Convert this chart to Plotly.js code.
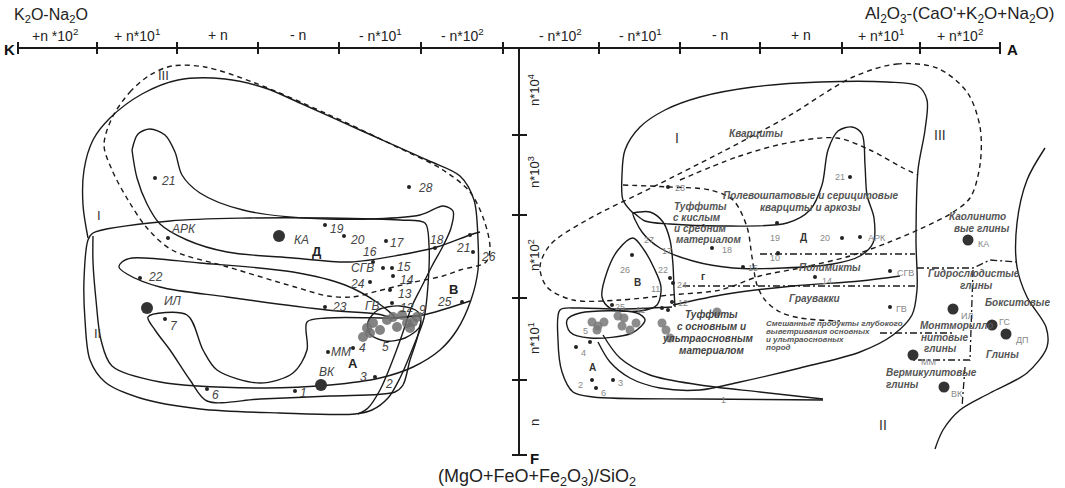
<!DOCTYPE html>
<html><head><meta charset="utf-8">
<script src="https://cdn.plot.ly/plotly-3.0.1.min.js"></script>
<style>html,body{margin:0;padding:0;background:#fff}#chart{width:1065px;height:488px}</style>
</head><body><div id="chart"></div>
<script>
// ---------- axis values ----------
const topTicks = [18,97,177,258,339,421,503,599,680,760,842,920,1000];
const topLabelPos = [55,137,218,298,380,462,560,640,720,801,881,960];
const topLabels = ['+n *10<sup>2</sup>','+ n*10<sup>1</sup>','+ n','- n','- n*10<sup>1</sup>','- n*10<sup>2</sup>',
                   '- n*10<sup>2</sup>','- n*10<sup>1</sup>','- n','+ n','+ n*10<sup>1</sup>','+ n*10<sup>2</sup>'];
const vTicks = [135,215,298,380];
const vLabelPos = [90,172,255,338,423];
const vLabels = ['n*10<sup>4</sup>','n*10<sup>3</sup>','n*10<sup>2</sup>','n*10<sup>1</sup>','n'];

// ---------- left diagram contours ----------
const leftIII = [[112,118],[130,92],[150,75],[172,66],[205,67],[255,83],[325,113],[395,146],[443,170],[470,192],[484,220],[490,248],[486,262],[460,270],[443,276],[410,283],[378,291],[352,297],[328,296],[295,287],[228,267],[172,250],[147,228],[128,200],[112,170],[104,145],[112,118]];
const leftI = [[88,238],[83,205],[84,170],[93,140],[110,118],[142,94],[178,80],[225,79],[265,88],[300,103],[360,130],[427,160],[460,176],[474,200],[478,240],[478,270],[471,300],[457,330],[440,350],[413,367],[380,378],[330,385],[260,388],[160,382],[112,366],[101,340],[96,300],[93,262],[93,236]];
const leftII = [[93,233],[170,221],[250,218],[327,218],[400,220],[425,223],[429,245],[428,285],[424,318],[414,345],[400,378],[388,398],[372,410],[355,414],[280,413],[200,409],[140,398],[105,382],[90,360],[85,320],[84,280],[88,240],[93,233]];
const leftFingerTop = [[132,150],[138,134],[150,129],[165,135],[175,152],[182,175],[200,193],[243,210],[327,219],[420,215],[443,206],[453,211],[451,228],[443,246],[432,266],[422,286],[412,306],[402,335],[392,362],[380,390],[368,408],[358,414]];
const leftFingerLow = [[132,150],[137,178],[147,204],[160,224],[187,240],[227,252],[293,258],[350,262],[400,255],[437,247],[470,235],[480,232]];
const leftBand = [[122,262],[132,258],[200,263],[293,272],[345,285],[378,303],[395,318],[377,314],[327,310],[227,297],[160,287],[127,274],[119,267],[122,262]];
const leftA = [[148,317],[187,315],[203,350],[217,370],[260,383],[293,373],[307,350],[307,322],[327,318],[393,318],[420,317],[418,335],[410,360],[403,385],[395,392],[330,396],[260,399],[207,401],[190,380],[170,350],[155,330],[148,317]];
const leftLens = [[368,322],[378,310],[400,306],[418,312],[420,326],[405,338],[385,341],[370,334],[368,322]];
const leftB25 = [[395,318],[423,315],[445,309],[470,301]];

// ---------- right diagram contours ----------
const rightI = [[633,213],[623,200],[622,175],[625,150],[640,127],[665,110],[700,97],[753,87],[820,82],[887,82],[918,86],[927,100],[925,130],[918,170],[916,240],[917,290],[912,315],[893,335],[860,352],[800,368],[740,382],[700,390],[660,388],[630,378],[610,362],[598,342]];
const rightD = [[633,213],[645,221],[670,224],[720,226],[787,223],[810,210],[822,185],[828,150],[838,131],[852,127],[862,134],[865,165],[867,195],[874,218],[873,243],[860,256],[833,264],[783,268],[733,268],[693,261],[660,248],[642,232],[633,213]];
const rightTuff = [[633,213],[650,212],[663,222],[670,240],[673,265],[674,290],[675,307]];
const rightB = [[633,238],[618,250],[607,272],[602,297],[610,308],[640,311],[657,305],[661,287],[654,268],[644,250],[633,238]];
const rightLens = [[567,320],[580,313],[637,313],[645,320],[632,333],[590,338],[570,332],[567,320]];
const rightA = [[672,307],[620,309],[577,308],[560,310],[558,340],[562,372],[573,392],[593,397],[700,399],[823,400]];
const rightTail = [[603,335],[620,358],[650,375],[700,385],[760,392],[823,399]];
const rightG = [[673,305],[727,294],[793,286],[860,281],[900,276]];
const rightClay = [[1045,148],[1027,180],[1017,223],[1017,267],[1027,297],[1046,327],[1047,347],[1027,373],[990,393],[960,410],[943,430],[935,449]];
const rightDashLoop = [[853,77],[897,64],[937,68],[967,92],[980,127],[980,165],[970,198],[950,214],[920,229],[887,243],[850,256],[800,268],[760,276],[720,290],[670,295],[620,300],[573,300],[547,287],[540,267],[550,245],[587,220],[653,187],[720,153],[787,117],[853,77]];
const rightDash2 = [[623,185],[670,187],[710,190],[733,200],[747,227],[752,257],[757,285],[765,300],[780,312],[800,318],[840,321]];
const rightDash3 = [[680,180],[737,157],[787,143],[837,138],[870,150],[903,168],[918,175]];
const rightDashDot = [
  [[760,254],[915,254]],
  [[683,286],[915,286]],
  [[917,268],[973,268],[990,260],[1017,262]],
  [[973,270],[970,360],[913,360]],
  [[965,367],[962,407]],
  [[880,333],[955,333]]
];

// ---------- points ----------
const leftDots = [[155,178],[409,187],[168,238],[325,225],[344,236],[386,241],[435,248],[470,235],[473,252],[373,262],[383,268],[392,268],[393,276],[370,282],[390,290],[325,307],[392,303],[462,302],[165,319],[140,278],[328,352],[353,348],[375,377],[207,389],[295,391]];
const leftBig = [[147,308],[279,236],[321,385]];
const leftBlobs = [[367,328],[373,323],[380,330],[387,320],[393,317],[397,327],[407,323],[413,322],[417,317],[410,328],[363,337],[370,333],[402,315]];
const leftNumLabels = [[168,181,'21'],[425,188,'28'],[183,229,'АРК'],[337,229,'19'],[357,240,'20'],[397,243,'17'],[437,240,'18'],[463,248,'21'],[488,257,'26'],[370,252,'16'],[362,268,'СГВ'],[404,267,'15'],[407,280,'14'],[357,284,'24'],[405,294,'13'],[339,307,'23'],[372,306,'ГВ'],[407,308,'12'],[422,310,'9'],[444,302,'25'],[174,326,'7'],[155,277,'22'],[173,301,'ИЛ'],[301,240,'КА'],[327,372,'ВК'],[341,352,'ММ'],[362,348,'4'],[385,347,'5'],[363,377,'3'],[389,384,'2'],[215,395,'6'],[303,393,'1']];
const leftBoldLabels = [[317,251,'Д'],[453,289,'В'],[353,363,'А']];
const leftRoman = [[163,75,'III'],[99,215,'I'],[97,333,'II']];

const rightDots = [[850,177],[668,187],[777,223],[842,238],[860,237],[712,248],[778,253],[743,267],[815,277],[890,271],[890,307],[632,255],[670,278],[673,283],[672,302],[612,305],[662,308],[668,310],[590,342],[576,347],[592,380],[596,388],[613,380]];
const rightBig = [[968,240],[953,309],[992,325],[1006,334],[913,355],[944,387]];
const rightBlobs = [[592,322],[598,326],[604,322],[597,330],[618,316],[624,318],[622,326],[630,330],[636,323],[662,323],[666,330],[670,338],[717,312]];
const rightNumLabels = [[840,177,'21'],[680,188,'23'],[775,238,'19'],[825,238,'20'],[877,238,'АРК'],[649,240,'27'],[667,251,'17'],[727,250,'18'],[775,258,'10'],[753,268,'15'],[827,281,'14'],[905,273,'СГВ'],[901,309,'ГВ'],[625,270,'26'],[663,270,'22'],[655,289,'11'],[682,285,'24'],[683,303,'12'],[620,307,'25'],[640,310,'11'],[585,331,'5'],[583,353,'4'],[580,385,'2'],[603,393,'6'],[620,383,'3'],[723,400,'1'],[983,244,'КА'],[967,316,'ИЛ'],[1004,322,'ГС'],[1022,340,'ДП'],[928,362,'ММ'],[957,394,'ВК']];
const rightBoldLabels = [[803,237,'Д'],[637,282,'В'],[592,367,'А'],[703,276,'г']];
const rightRoman = [[677,138,'I'],[940,135,'III'],[883,425,'II']];
const rightNames = [[756,133,'Кварциты'],[810,195,'Полевошпатовые и серицитовые'],[810,207,'кварциты и аркозы'],
  [700,206,'Туффиты'],[697,217,'с кислым'],[700,228,'и средним'],[708,239,'материалом'],
  [830,267,'Полимикты'],[974,273,'Гидрослюдистые'],[976,285,'глины'],[814,298,'Граувакки'],
  [977,216,'Каолинито'],[982,228,'вые глины'],[1017,302,'Бокситовые'],
  [956,325,'Монтморилло'],[945,337,'нитовые'],[940,348,'глины'],[1002,354,'Глины'],
  [931,372,'Вермикулитовые'],[902,384,'глины']];
const rightTuffNames = [[711,314,'Туффиты'],[711,326,'с основным и'],[707,338,'ультраосновным'],[711,350,'материалом']];
const rightSmallNames = [[765,323,'Смешанные продукты глубокого'],[765,331,'выветривания основных'],[765,339,'и ультраосновных'],[765,347,'пород']];

// ---------- build ----------
const INK = '#1a1a1a';
const F = 'Arial, "Liberation Sans", sans-serif';
const traces = [];
function line(p, dash, w){
  traces.push({type:'scatter',mode:'lines',x:p.map(q=>q[0]),y:p.map(q=>q[1]),
    line:{color:INK,width:w||1.4,dash:dash||'solid',shape:'spline',smoothing:0.9},hoverinfo:'skip',showlegend:false});
}
function straight(p, dash, w){
  traces.push({type:'scatter',mode:'lines',x:p.map(q=>q[0]),y:p.map(q=>q[1]),
    line:{color:INK,width:w||1.4,dash:dash||'solid'},hoverinfo:'skip',showlegend:false});
}
function dots(p, size, color){
  traces.push({type:'scatter',mode:'markers',x:p.map(q=>q[0]),y:p.map(q=>q[1]),
    marker:{size:size,color:color,line:{width:0}},hoverinfo:'skip',showlegend:false});
}
const ann = [];
function texts(p, size, color, style, weight, anchor){
  p.forEach(q=>ann.push({x:q[0],y:q[1],xref:'x',yref:'y',text:q[2],showarrow:false,
    xanchor:anchor||'center',yanchor:'middle',borderpad:0,
    font:{size:size,color:color,family:F,style:style||'normal',weight:weight||'normal'}}));
}

// left contours
line(leftIII,'5px,4px',1.4);
[leftI,leftII,leftFingerTop,leftFingerLow,leftBand,leftA,leftLens,leftB25].forEach(c=>line(c));
// right contours
[rightI,rightD,rightTuff,rightB,rightLens,rightA,rightTail,rightG,rightClay].forEach(c=>line(c));
line(rightDashLoop,'5px,4px',1.4);
line(rightDash2,'5px,4px',1.4);
line(rightDash3,'5px,4px',1.4);
rightDashDot.forEach(c=>straight(c,'7px,3px,2px,3px',1.3));

// axes
straight([[topTicks[0],48],[topTicks[topTicks.length-1],48]],'solid',2);
straight([[519,48],[519,455]],'solid',2);
const tickPath = [];
topTicks.forEach(t=>{tickPath.push([t,42],[t,54],[null,null]);});
vTicks.forEach(t=>{tickPath.push([512,t],[527,t],[null,null]);});
tickPath.push([512,455],[527,455]);
traces.push({type:'scatter',mode:'lines',x:tickPath.map(q=>q[0]),y:tickPath.map(q=>q[1]),
  line:{color:INK,width:2},hoverinfo:'skip',showlegend:false,connectgaps:false});

// points
dots(leftBlobs,10,'rgba(110,110,110,0.85)');
dots(rightBlobs,9,'rgba(120,120,120,0.85)');
dots(leftDots,4,'#222');
dots(rightDots,4,'#222');
dots(leftBig,12,'#333');
dots(rightBig,11,'#333');

// labels
texts(leftNumLabels,12,'#444','italic');
texts(leftBoldLabels,13,'#222','normal','bold');
texts(leftRoman,13,'#333');
texts(rightNumLabels,9,'#888');
texts(rightBoldLabels,10,'#333','normal','bold');
texts(rightRoman,14,'#333');
texts(rightNames,10,'#555','italic','bold');
texts(rightTuffNames,10,'#444','italic','bold');
texts(rightSmallNames,8,'#555','italic','bold','left');

topLabels.forEach((t,i)=>ann.push({x:topLabelPos[i],y:35,xref:'x',yref:'y',text:t,showarrow:false,font:{family:F,size:14,color:'#222'}}));
vLabels.forEach((t,i)=>ann.push({x:534,y:vLabelPos[i],xref:'x',yref:'y',text:t,showarrow:false,textangle:-90,font:{family:F,size:13,color:'#222'}}));
ann.push({x:9,y:49,xref:'x',yref:'y',text:'K',showarrow:false,font:{family:F,size:15,color:'#111',weight:'bold'}});
ann.push({x:1012,y:49,xref:'x',yref:'y',text:'A',showarrow:false,font:{family:F,size:15,color:'#111',weight:'bold'}});
ann.push({x:534,y:458,xref:'x',yref:'y',text:'F',showarrow:false,font:{family:F,size:15,color:'#111',weight:'bold'}});
ann.push({x:12,y:15,xref:'x',yref:'y',xanchor:'left',text:'K<sub>2</sub>O-Na<sub>2</sub>O',showarrow:false,font:{family:F,size:16,color:'#222'}});
ann.push({x:863,y:15,xref:'x',yref:'y',xanchor:'left',text:"Al<sub>2</sub>O<sub>3</sub>-(CaO'+K<sub>2</sub>O+Na<sub>2</sub>O)",showarrow:false,font:{family:F,size:17,color:'#222'}});
ann.push({x:537,y:477,xref:'x',yref:'y',text:'(MgO+FeO+Fe<sub>2</sub>O<sub>3</sub>)/SiO<sub>2</sub>',showarrow:false,font:{family:F,size:18,color:'#222'}});

const layout = {
  width:1065,height:488,margin:{l:0,r:0,t:0,b:0},paper_bgcolor:'#fff',plot_bgcolor:'#fff',
  xaxis:{range:[0,1065],visible:false,fixedrange:true},
  yaxis:{range:[488,0],visible:false,fixedrange:true},
  annotations:ann,showlegend:false
};
Plotly.newPlot('chart',traces,layout,{staticPlot:true,displayModeBar:false});
</script></body></html>
